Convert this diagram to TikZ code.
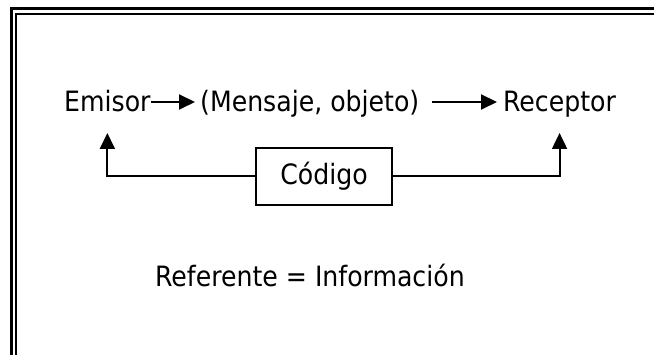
\documentclass[tikz,border=0pt]{standalone}
\usepackage{fontspec}
\setmainfont{DejaVu Sans Condensed}
\usetikzlibrary{arrows.meta}
\begin{document}
\begin{tikzpicture}[x=1pt,y=-1pt,
 lbl/.style={inner sep=0pt, anchor=base west, font=\fontsize{28}{32}\selectfont},
 conn/.style={line width=2pt, -{Triangle[length=16pt,width=15pt]}},
 boxn/.style={draw, line width=2.5pt, minimum width=136pt, minimum height=57pt, inner sep=0pt, font=\fontsize{28}{32}\selectfont},
 outerl/.style={line width=3pt},
 innerl/.style={line width=2pt}]
\useasboundingbox (0,0) rectangle (654,355);
\fill[white] (0,0) rectangle (654,355);
\draw[outerl] (11,355) -- (11,9) -- (654,9);
\draw[innerl] (16,355) -- (16,14) -- (654,14);
\node[lbl] (em) at (64,112) {Emisor};
\node[lbl] (msg) at (200,112) {(Mensaje, objeto)};
\node[lbl] (rec) at (503,112) {Receptor};
\node[boxn] (cod) at (324,176.5) {Código};
\node[lbl] (ref) at (155,287) {Referente = Información};
\draw[conn] ([yshift=10pt]em.base east) -- ([xshift=-5pt,yshift=10pt]msg.base west);
\draw[conn] ([xshift=12pt,yshift=10pt]msg.base east) -- ([xshift=-6pt,yshift=10pt]rec.base west);
\draw[conn] (cod.west) -| ([yshift=-21pt]em.base);
\draw[conn] (cod.east) -| ([yshift=-21pt]rec.base);
\end{tikzpicture}
\end{document}
